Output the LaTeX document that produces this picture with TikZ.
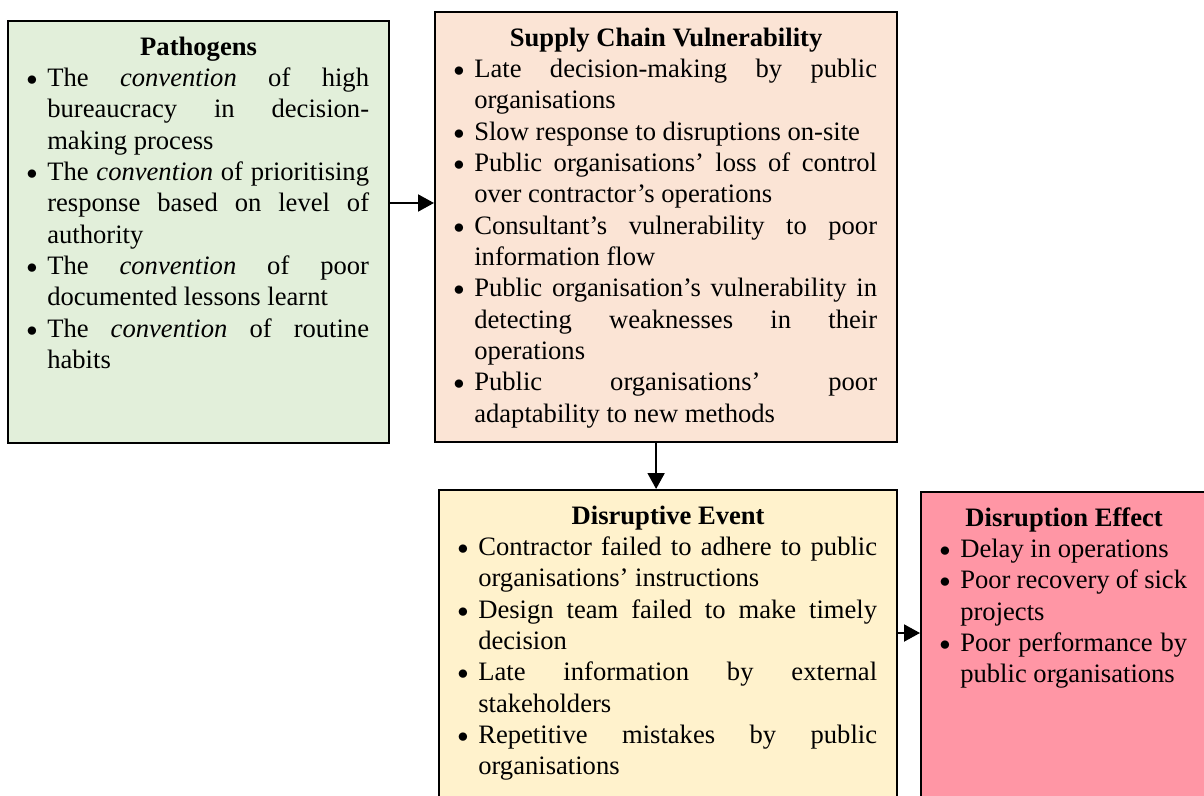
\documentclass[tikz,border=0pt]{standalone}
\usepackage{fontspec}
\usepackage{graphicx}
\setmainfont{Liberation Serif}
\usetikzlibrary{arrows.meta}
\definecolor{pathogengreen}{HTML}{E2EFDA}
\definecolor{vulnorange}{HTML}{FBE4D5}
\definecolor{eventyellow}{HTML}{FFF2CC}
\definecolor{effectpink}{RGB}{255,150,165}
\hyphenpenalty=10000
\exhyphenpenalty=10000
\tolerance=10000
\hbadness=10000
\newcommand{\itemdot}{\llap{\raisebox{0.4pt}{\scalebox{0.75}{$\bullet$}}}}
\newenvironment{bulletlist}{\begin{list}{\itemdot}{%
  \setlength{\leftmargin}{9.6pt}\setlength{\labelsep}{5pt}\setlength{\labelwidth}{0pt}%
  \setlength{\itemsep}{0pt}\setlength{\parsep}{0pt}\setlength{\topsep}{0pt}\setlength{\partopsep}{0pt}}}%
  {\end{list}}
\newcommand{\stagetext}[4]{\begin{minipage}[t][#2][t]{#1}{\centering\strut\textbf{#3}\par}%
  \begin{bulletlist}#4\end{bulletlist}\end{minipage}}

\begin{document}
\begin{tikzpicture}[x=0.5pt, y=-0.5pt,
  stagebox/.style={draw=black, line width=1.1pt, anchor=north west, inner xsep=10pt, inner ysep=6pt,
    font=\fontsize{13.3pt}{15.67pt}\selectfont},
  flow/.style={-{Triangle[length=8pt,width=8.5pt]}, line width=1pt}]
\clip (0,0) rectangle (1204,796);
% pathogens
\node[stagebox, fill=pathogengreen] (pathogens) at (7,20) {\stagetext{170.5pt}{199pt}{Pathogens}{%
  \item The \emph{convention} of high \linebreak bureaucracy in decision-\linebreak making process
  \item The \emph{convention} of prioritising \linebreak response based on level of \linebreak authority
  \item The \emph{convention} of poor \linebreak documented lessons learnt
  \item The \emph{convention} of routine \linebreak habits}};
% supply chain vulnerability
\node[stagebox, fill=vulnorange] (supply) at (434,11) {\stagetext{211pt}{203pt}{Supply Chain Vulnerability}{%
  \item Late decision-making by public \linebreak organisations
  \item Slow response to disruptions on-site
  \item Public organisations’ loss of control \linebreak over contractor’s operations
  \item Consultant’s vulnerability to poor \linebreak information flow
  \item Public organisation’s vulnerability in \linebreak detecting weaknesses in their \linebreak operations
  \item Public organisations’ poor \linebreak adaptability to new methods}};
% disruptive event
\node[stagebox, fill=eventyellow] (event) at (438,489) {\stagetext{209pt}{148.5pt}{Disruptive Event}{%
  \item Contractor failed to adhere to public \linebreak organisations’ instructions
  \item Design team failed to make timely \linebreak decision
  \item Late information by external \linebreak stakeholders
  \item Repetitive mistakes by public \linebreak organisations}};
% disruption effect
\node[stagebox, fill=effectpink] (effect) at (920,491) {\stagetext{123pt}{147.5pt}{Disruption Effect}{%
  \item Delay in operations
  \item Poor recovery of sick \linebreak projects
  \item Poor performance by \linebreak public organisations}};
% arrows
\coordinate (pa) at ([yshift=-91.5pt]pathogens.north east);
\draw[flow] (pa) -- (pa -| supply.west);
\coordinate (sa) at ([xshift=-5pt]supply.south);
\draw[flow] (sa) -- (sa |- event.north);
\coordinate (ea) at ([yshift=-72pt]event.north east);
\draw[flow] (ea) -- (ea -| effect.west);
\end{tikzpicture}
\end{document}
